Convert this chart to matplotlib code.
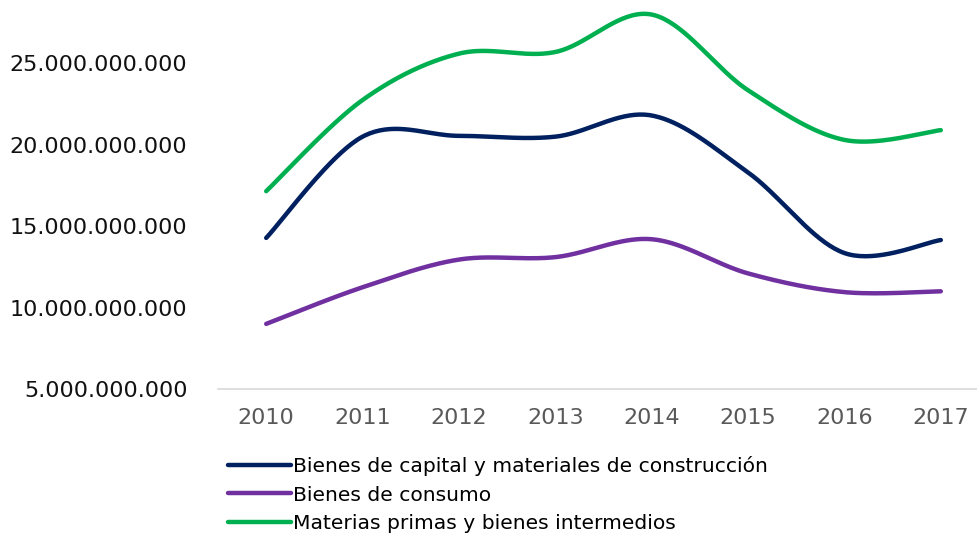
import numpy as np
import matplotlib
matplotlib.use("Agg")
import matplotlib.pyplot as plt
from matplotlib.ticker import FuncFormatter

years = ["2010", "2011", "2012", "2013", "2014", "2015", "2016", "2017"]
capital = [14.28e9, 20.5e9, 20.55e9, 20.5e9, 21.8e9, 18.3e9, 13.35e9, 14.15e9]
consumo = [9.0e9, 11.25e9, 12.95e9, 13.1e9, 14.2e9, 12.1e9, 10.95e9, 11.0e9]
materias = [17.15e9, 22.75e9, 25.6e9, 25.7e9, 28.0e9, 23.35e9, 20.3e9, 20.9e9]

names = ["Bienes de capital y materiales de construcción",
         "Bienes de consumo",
         "Materias primas y bienes intermedios"]
colors = ["#002060", "#7030a0", "#00b050"]

plt.rcParams['font.family'] = ['DejaVu Sans']


def smooth(xs, ys, n=40):
    xs = np.asarray(xs, float)
    ys = np.asarray(ys, float)
    px = np.concatenate([[xs[0]], xs, [xs[-1]]])
    py = np.concatenate([[ys[0]], ys, [ys[-1]]])
    outx, outy = [], []
    t = np.linspace(0, 1, n)
    for i in range(1, len(px) - 2):
        p0x, p0y = px[i], py[i]
        p3x, p3y = px[i + 1], py[i + 1]
        c1x = p0x + (px[i + 1] - px[i - 1]) / 6
        c1y = p0y + (py[i + 1] - py[i - 1]) / 6
        c2x = p3x - (px[i + 2] - px[i]) / 6
        c2y = p3y - (py[i + 2] - py[i]) / 6
        bx = (1 - t) ** 3 * p0x + 3 * (1 - t) ** 2 * t * c1x + 3 * (1 - t) * t ** 2 * c2x + t ** 3 * p3x
        by = (1 - t) ** 3 * p0y + 3 * (1 - t) ** 2 * t * c1y + 3 * (1 - t) * t ** 2 * c2y + t ** 3 * p3y
        outx.append(bx)
        outy.append(by)
    return np.concatenate(outx), np.concatenate(outy)


W, H = 977, 540
fig = plt.figure(figsize=(W / 100, H / 100), dpi=100)
left, right, bottom = 218, 989, 389
ax = fig.add_axes([left / W, 1 - bottom / H, (right - left) / W, bottom / H])

x = np.arange(len(years))
for vals, col, name in zip([capital, consumo, materias], colors, names):
    sx, sy = smooth(x, vals)
    ax.plot(sx, sy, color=col, lw=3.2, solid_capstyle='round', label=name)

ax.set_xlim(-0.5, len(years) - 0.5)
ax.set_ylim(5e9, 5e9 + 389 / 16.28 * 1e9)
ax.set_yticks([5e9, 10e9, 15e9, 20e9, 25e9])
ax.yaxis.set_major_formatter(FuncFormatter(lambda v, p: f"{int(round(v)):,}".replace(",", ".")))
ax.set_xticks(x)
ax.set_xticklabels(years)
for s in ["top", "right", "left"]:
    ax.spines[s].set_visible(False)
ax.spines["bottom"].set_color("#d9d9d9")
ax.spines["bottom"].set_linewidth(1.2)
ax.tick_params(axis='y', length=0, pad=22, labelsize=16, labelcolor="#111111")
ax.tick_params(axis='x', length=0, pad=14, labelsize=16, labelcolor="#595959")

leg = fig.legend(loc="upper left", bbox_to_anchor=(228 / W, 1 - 456 / H), frameon=False,
                 fontsize=14.6, handlelength=3.1, handletextpad=0.1, labelspacing=0.47,
                 borderaxespad=0, borderpad=0)

fig.savefig("out.png", dpi=100)
